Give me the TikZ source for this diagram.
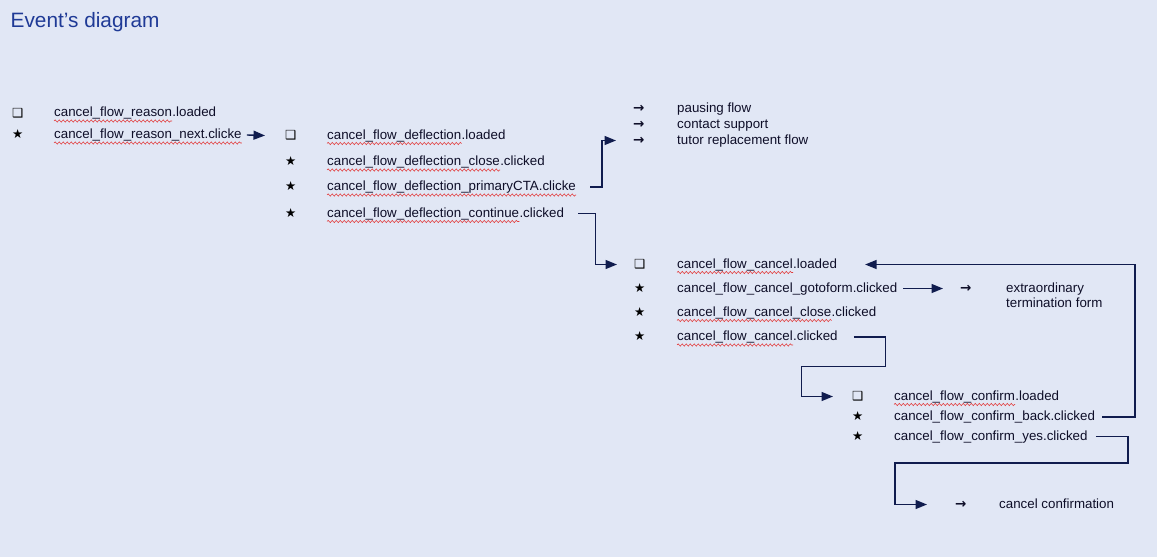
\documentclass[tikz,border=0pt]{standalone}
\usepackage{fontspec}
\setmainfont{Liberation Sans}
\newfontfamily\symf{DejaVu Sans}
\newfontfamily\symb{DejaVu Sans Bold}
\usetikzlibrary{arrows.meta,decorations.pathmorphing,calc}
\definecolor{bgcol}{RGB}{225,231,245}
\definecolor{titlecol}{RGB}{31,58,150}
\definecolor{txtcol}{RGB}{14,14,40}
\definecolor{arrcol}{RGB}{16,28,78}
\definecolor{squigcol}{RGB}{225,60,60}
\begin{document}
\begin{tikzpicture}[x=1pt,y=-1pt,
  txt/.style={font=\fontsize{13.33}{16}\selectfont, text=txtcol, inner sep=0pt, anchor=base west, text height=9.5pt, text depth=2.5pt},
  symb/.style={font=\symf\fontsize{12.5}{14}\selectfont, text=black, inner sep=0pt, anchor=base west, text height=9.5pt, text depth=2.5pt},
  arrsym/.style={font=\symb\fontsize{13.5}{14}\selectfont, text=txtcol, inner sep=0pt, anchor=base west, text height=9.5pt, text depth=2.5pt},
  squig/.style={draw=squigcol, line width=0.6pt, decorate, decoration={snake, amplitude=1.1pt, segment length=4pt}},
  conn/.style={draw=arrcol, line width=1.4pt, -{Triangle[length=11.5pt,width=9pt]}}
]
\useasboundingbox[fill=bgcol] (0,0) rectangle (1157,557);

% title
\node[font=\fontsize{20.8}{24}\selectfont, text=titlecol, inner sep=0pt, anchor=base west] (title) at (10.5,27.2) {Event’s diagram};

% column 1
\node[symb] (r1s) at (12,117) {❑};
\node[txt] (r1a) at (54,116.5) {cancel\_flow\_reason};
\node[txt] (r1b) at (r1a.base east) {.loaded};
\node[symb] (r2s) at (12,138.5) {★};
\node[txt] (r2b) at (54,138.5) {cancel\_flow\_reason\_next.clicke};

% column 2
\node[symb] (d1s) at (285,139) {❑};
\node[txt] (d1a) at (327,139) {cancel\_flow\_deflection};
\node[txt] (d1b) at (d1a.base east) {.loaded};
\node[symb] (d2s) at (285,165.5) {★};
\node[txt] (d2a) at (327,165.5) {cancel\_flow\_deflection\_close};
\node[txt] (d2b) at (d2a.base east) {.clicked};
\node[symb] (d3s) at (285,190.5) {★};
\node[txt] (d3b) at (327,190.5) {cancel\_flow\_deflection\_primaryCTA.clicke};
\node[symb] (d4s) at (285,217) {★};
\node[txt] (d4a) at (327,217) {cancel\_flow\_deflection\_continue};
\node[txt] (d4b) at (d4a.base east) {.clicked};

% column 3 (other flows)
\node[arrsym] (p1s) at (633,112) {→};
\node[txt] (p1b) at (677,112) {pausing flow};
\node[arrsym] (p2s) at (633,128) {→};
\node[txt] (p2b) at (677,128) {contact support};
\node[arrsym] (p3s) at (633,144) {→};
\node[txt] (p3b) at (677,144) {tutor replacement flow};

% cancel column
\node[symb] (c1s) at (634,268) {❑};
\node[txt] (c1a) at (677,268) {cancel\_flow\_cancel};
\node[txt] (c1b) at (c1a.base east) {.loaded};
\node[symb] (c2s) at (634,292) {★};
\node[txt] (c2b) at (677,292) {cancel\_flow\_cancel\_gotoform.clicked};
\node[symb] (c3s) at (634,316) {★};
\node[txt] (c3a) at (677,316) {cancel\_flow\_cancel\_close};
\node[txt] (c3b) at (c3a.base east) {.clicked};
\node[symb] (c4s) at (634,340.5) {★};
\node[txt] (c4a) at (677,340.5) {cancel\_flow\_cancel};
\node[txt] (c4b) at (c4a.base east) {.clicked};

% extraordinary termination form
\node[arrsym] (e1s) at (960,292) {→};
\node[txt] (e1b) at (1006,292) {extraordinary};
\node[txt] (e2b) at (1006,307) {termination form};

% confirm column
\node[symb] (f1s) at (852,400) {❑};
\node[txt] (f1a) at (894,400) {cancel\_flow\_confirm};
\node[txt] (f1b) at (f1a.base east) {.loaded};
\node[symb] (f2s) at (852,420.5) {★};
\node[txt] (f2b) at (894,420.5) {cancel\_flow\_confirm\_back.clicked};
\node[symb] (f3s) at (852,440) {★};
\node[txt] (f3b) at (894,440) {cancel\_flow\_confirm\_yes.clicked};

% cancel confirmation
\node[arrsym] (g1s) at (955,508) {→};
\node[txt] (g1b) at (999,508) {cancel confirmation};

% spell-check underlines
\foreach \n in {r1a,r2b,d1a,d2a,d3b,d4a,c1a,c3a,c4a,f1a}
  \draw[squig] ([yshift=-4.5pt]\n.base west) -- ([yshift=-4.5pt]\n.base east);

% bend coordinates
\coordinate (k2) at (602,0);
\coordinate (k3) at (595.5,0);
\coordinate (k5) at (1135,0);
\coordinate (k6a) at (885.5,366.5);
\coordinate (k6b) at (801.5,366.5);
\coordinate (k7a) at (1128,463);
\coordinate (k7b) at (895,463);

% connectors
\draw[conn] ([xshift=5pt]r2b.east) -- ([xshift=-20pt]d1s.west);
\draw[conn] ([xshift=14pt]d3b.east) -| (k2 |- p3s.west) -- ([xshift=-17pt]p3s.west);
\draw[conn] ([xshift=14pt]d4b.east) -| (k3 |- c1s.west) -- ([xshift=-17pt]c1s.west);
\draw[conn] ([xshift=6pt]c2b.east) -- ([xshift=-17pt]e1s.west);
\draw[conn] ([xshift=7pt]f2b.east) -| (k5 |- c1b.east) -- ([xshift=28pt]c1b.east);
\draw[conn] ([xshift=16pt]c4b.east) -| (k6a) -- (k6b) |- ([xshift=-19pt]f1s.west);
\draw[conn] ([xshift=8pt]f3b.east) -| (k7a) -- (k7b) |- ([xshift=-28pt]g1s.west);
\end{tikzpicture}
\end{document}
